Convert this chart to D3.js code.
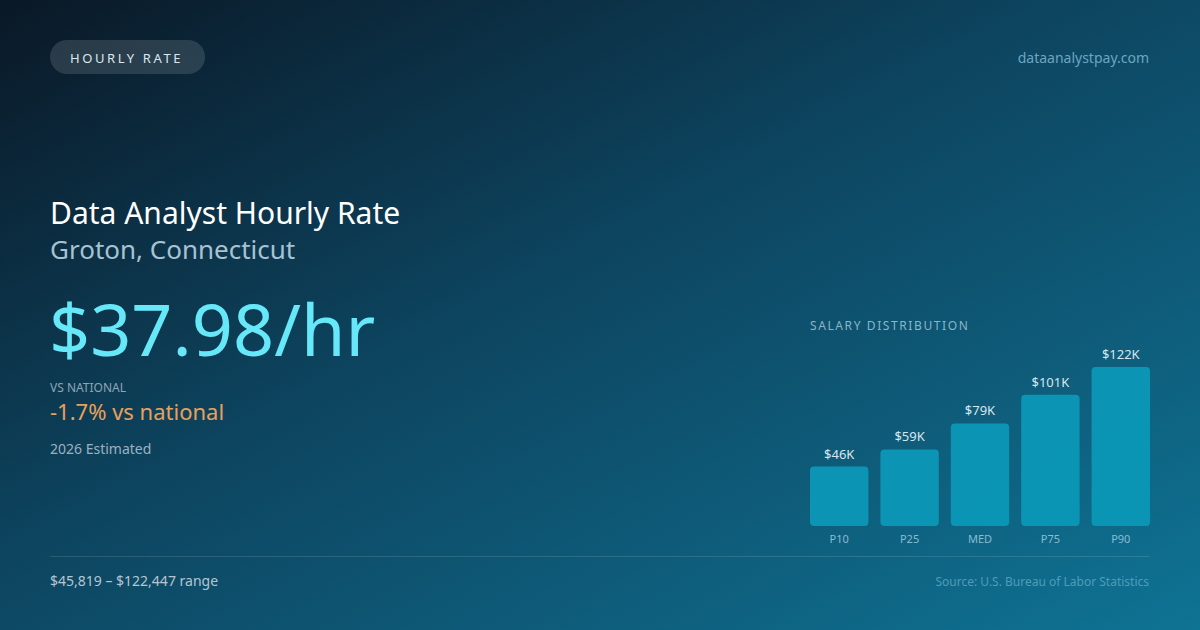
<!DOCTYPE html>
<html>
<head>
<meta charset="utf-8">
<script src="https://cdn.jsdelivr.net/npm/d3@7"></script>
<style>
  html, body { margin: 0; padding: 0; background: #0c2a3c; }
  svg { display: block; font-family: "Noto Sans", "Open Sans", sans-serif; }
</style>
</head>
<body>
<svg id="card"></svg>
<script>
/////////////// Data ///////////////
const percentiles = ["P10", "P25", "MED", "P75", "P90"];
const salariesK = [45.819, 59, 79, 101, 122.447];
const barLabels = ["$46K", "$59K", "$79K", "$101K", "$122K"];

const badgeText = "HOURLY RATE";
const siteName = "dataanalystpay.com";
const title = "Data Analyst Hourly Rate";
const place = "Groton, Connecticut";
const hourly = "$37.98/hr";
const vsLabel = "VS NATIONAL";
const vsValue = "-1.7% vs national";
const estimate = "2026 Estimated";
const rangeText = "$45,819 – $122,447 range";
const sourceText = "Source: U.S. Bureau of Labor Statistics";

/////////////// Constants ///////////////
const width = 1200;
const height = 630;
const chart = { left: 810, right: 1150, bottom: 526, maxH: 159 };

const svg = d3.select("#card").attr("width", width).attr("height", height);

// background gradient
const defs = svg.append("defs");
const bg = defs.append("linearGradient")
  .attr("id", "bg").attr("x1", "0%").attr("y1", "0%").attr("x2", "100%").attr("y2", "100%");
bg.append("stop").attr("offset", "0%").attr("stop-color", "#0a1826");
bg.append("stop").attr("offset", "45%").attr("stop-color", "#0d4560");
bg.append("stop").attr("offset", "100%").attr("stop-color", "#0f7394");
svg.append("rect").attr("width", width).attr("height", height).attr("fill", "url(#bg)");

// badge
svg.append("rect")
  .attr("x", 50).attr("y", 40).attr("width", 155).attr("height", 34).attr("rx", 17)
  .attr("fill", "#ffffff").attr("fill-opacity", 0.13);
svg.append("text")
  .attr("x", 70).attr("y", 62.5)
  .attr("font-size", 13).attr("letter-spacing", 2.6)
  .attr("fill", "#dce6ee").text(badgeText);

svg.append("text")
  .attr("x", 1149).attr("y", 63).attr("text-anchor", "end")
  .attr("font-size", 14).attr("fill", "#6aa6c0").text(siteName);

// headings
svg.append("text").attr("x", 50).attr("y", 224)
  .attr("font-size", 30).attr("fill", "#ffffff").text(title);
svg.append("text").attr("x", 50).attr("y", 259)
  .attr("font-size", 26).attr("fill", "#a7c2d2").text(place);

svg.append("text").attr("x", 49).attr("y", 356)
  .attr("font-size", 72).attr("fill", "#67e8f9").text(hourly);

svg.append("text").attr("x", 50).attr("y", 392)
  .attr("font-size", 12).attr("fill", "#8ea6b6").text(vsLabel);
svg.append("text").attr("x", 50).attr("y", 420)
  .attr("font-size", 22).attr("fill", "#eba05a").text(vsValue);
svg.append("text").attr("x", 50).attr("y", 454)
  .attr("font-size", 14).attr("fill", "#9cb1c0").text(estimate);

// divider + footer
svg.append("line")
  .attr("x1", 50).attr("x2", 1150).attr("y1", 556.5).attr("y2", 556.5)
  .attr("stroke", "#ffffff").attr("stroke-opacity", 0.12);
svg.append("text").attr("x", 50).attr("y", 586)
  .attr("font-size", 14).attr("fill", "#b5c6d2").text(rangeText);
svg.append("text").attr("x", 1149).attr("y", 586).attr("text-anchor", "end")
  .attr("font-size", 12).attr("fill", "#4f9cb8").text(sourceText);

/////////////// Salary distribution ///////////////
svg.append("text").attr("x", 810).attr("y", 330)
  .attr("font-size", 12).attr("letter-spacing", 1.6).attr("fill", "#8db4c6")
  .text("SALARY DISTRIBUTION");

const xScale = d3.scaleBand()
  .domain(percentiles)
  .range([chart.left, chart.right])
  .paddingInner(0.17)
  .paddingOuter(0);

const hScale = d3.scaleLinear()
  .domain([0, d3.max(salariesK)])
  .range([0, chart.maxH]);

const data = percentiles.map((p, i) => ({ p, v: salariesK[i], label: barLabels[i] }));

const barG = svg.append("g");
barG.selectAll(".bar")
  .data(data)
  .join("rect")
    .classed("bar", true)
    .attr("x", d => xScale(d.p))
    .attr("y", d => chart.bottom - hScale(d.v))
    .attr("width", xScale.bandwidth())
    .attr("height", d => hScale(d.v))
    .attr("rx", 4)
    .attr("fill", "#0b9ab9")
    .attr("fill-opacity", 0.9);

barG.selectAll(".val")
  .data(data)
  .join("text")
    .classed("val", true)
    .attr("x", d => xScale(d.p) + xScale.bandwidth() / 2)
    .attr("y", d => chart.bottom - hScale(d.v) - 8)
    .attr("text-anchor", "middle")
    .attr("font-size", 13)
    .attr("fill", "#d8e6ee")
    .text(d => d.label);

barG.selectAll(".cat")
  .data(data)
  .join("text")
    .classed("cat", true)
    .attr("x", d => xScale(d.p) + xScale.bandwidth() / 2)
    .attr("y", 543)
    .attr("text-anchor", "middle")
    .attr("font-size", 11)
    .attr("fill", "#86bdd2")
    .text(d => d.p);
</script>
</body>
</html>
